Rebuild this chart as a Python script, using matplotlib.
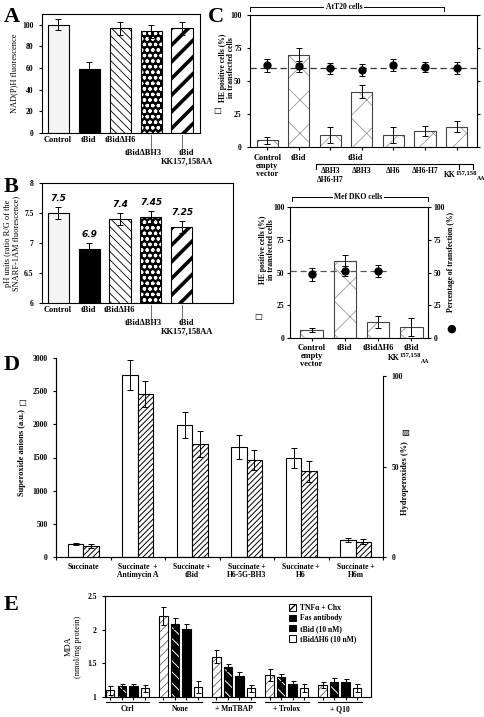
import matplotlib
matplotlib.use('Agg')
import matplotlib.pyplot as plt
from matplotlib.patches import Patch
from matplotlib.lines import Line2D
import numpy as np

plt.rcParams['font.family'] = ['Liberation Serif', 'DejaVu Sans']
plt.rcParams['font.weight'] = 'bold'
plt.rcParams['font.size'] = 6
plt.rcParams['axes.linewidth'] = 0.8
plt.rcParams['xtick.major.size'] = 2.5
plt.rcParams['ytick.major.size'] = 2.5
plt.rcParams['xtick.major.width'] = 0.8
plt.rcParams['ytick.major.width'] = 0.8
plt.rcParams['xtick.labelsize'] = 5.5
plt.rcParams['ytick.labelsize'] = 5.5

# ---- data ----
ab_top = ['Control', 'tBid', 'tBidΔH6']
ab_low = ['tBidΔBH3', 'tBid\nKK157,158AA']
nadh = [100, 59, 97, 94, 97]
nadh_err = [5, 7, 6, 6, 6]
ph = [7.5, 6.9, 7.4, 7.43, 7.26]
ph_err = [0.1, 0.1, 0.1, 0.1, 0.1]
ph_text = ['7.5', '6.9', '7.4', '7.45', '7.25']

att_he = [5, 70, 9, 42, 9, 12, 15.5]
att_he_err = [2.5, 5, 6, 5, 6, 4, 4]
att_tr = [62, 61, 59.5, 58.5, 62, 60.5, 60]
att_tr_err = [5, 4, 4, 4.5, 4.5, 4, 4.5]
att_sub = ['ΔBH3\nΔH6-H7', 'ΔBH3', 'ΔH6', 'ΔH6-H7']

mef_labels = ['Control\nempty\nvector', 'tBid', 'tBidΔH6', 'tBid']
mef_he = [6, 59, 12, 8.5]
mef_he_err = [1.5, 4, 4.5, 7]
mef_tr = [48.5, 51, 51]
mef_tr_err = [5, 4, 4.5]

d_labels = ['Succinate', 'Succinate  +\nAntimycin A', 'Succinate +\ntBid',
            'Succinate +\nH6-5G-BH3', 'Succinate +\nH6', 'Succinate +\nH6m']
superoxide = [195, 2750, 1985, 1660, 1495, 255]
superoxide_err = [20, 226, 196, 180, 155, 35]
hydro = [6, 90, 62.5, 53.5, 47.5, 8.5]
hydro_err = [1, 7, 7, 5.5, 5.8, 1.5]

e_groups = ['Ctrl', 'None', '+ MnTBAP', '+ Trolox', '+ Q10']
e_series = ['TNFα + Chx', 'Fas antibody', 'tBid (10 nM)', 'tBidΔH6 (10 nM)']
mda = [[1.10, 2.20, 1.60, 1.33, 1.18],
       [1.16, 2.09, 1.44, 1.29, 1.23],
       [1.16, 2.01, 1.31, 1.19, 1.23],
       [1.13, 1.15, 1.13, 1.13, 1.13]]
mda_err = [[0.07, 0.13, 0.10, 0.09, 0.05],
           [0.04, 0.08, 0.05, 0.05, 0.05],
           [0.04, 0.08, 0.06, 0.05, 0.03],
           [0.05, 0.09, 0.05, 0.06, 0.06]]

W, H = 485, 717
fig = plt.figure(figsize=(W / 100, H / 100), dpi=100)


def rect(x0, y0, x1, y1):
    return [x0 / W, 1 - y1 / H, (x1 - x0) / W, (y1 - y0) / H]


def ftext(x, y, s, **kw):
    fig.text(x / W, 1 - y / H, s, **kw)


def new_axes(x0, y0, x1, y1):
    a = fig.add_axes(rect(x0, y0, x1, y1))
    a.patch.set_visible(False)
    return a


def hbar(ax, x, h, w, face, hatch=None, hcolor='black', hlw=0.8, edge='black', lw=0.8):
    with plt.rc_context({'hatch.linewidth': hlw}):
        bars = ax.bar(x, h, w, color=face, edgecolor=hcolor, hatch=hatch, linewidth=0)
    for b in bars:
        if hasattr(b, 'set_hatch_linewidth'):
            b.set_hatch_linewidth(hlw)
    ax.bar(x, h, w, fill=False, edgecolor=edge, linewidth=lw)


def ebar(ax, x, v, e, cap=2):
    ax.errorbar(x, v, yerr=e, fmt='none', ecolor='black', elinewidth=0.7,
                capsize=cap, capthick=0.7)


def kk_label(ax, x, y):
    # KK with raised 157,158 and lowered AA
    t1 = ax.text(x, y, 'KK', transform=ax.get_xaxis_transform(), ha='left', va='top',
                 fontsize=5.5)
    t2 = ax.annotate('157,158', xy=(1, 0.6), xycoords=t1, ha='left', va='bottom',
                     fontsize=4.8)
    ax.annotate('AA', xy=(1, -0.2), xycoords=(t2, t1), ha='left', va='bottom',
                fontsize=4.2)


ab_styles = [('#f4f4f4', None, 'black', 0.8),
             ('black', None, 'black', 0.8),
             ('white', '\\\\\\\\', 'black', 0.6),
             ('black', 'ooo', 'white', 0.9),
             ('white', '//', 'black', 2.6)]


def ab_panel(ax, vals, errs):
    x = np.arange(5)
    for i in range(5):
        face, hatch, hc, hlw = ab_styles[i]
        hbar(ax, [x[i]], [vals[i]], 0.68, face, hatch, hc, hlw)
    ebar(ax, x, vals, errs)
    ax.set_xticks(x[:3])
    ax.set_xticklabels(ab_top, fontsize=6)
    ax.tick_params(axis='x', length=0, pad=2)
    tr = ax.get_xaxis_transform()
    for i in [3, 4]:
        ax.plot([i, i], [-0.02, -0.125], color='#555', lw=0.6, transform=tr, clip_on=False)
    ax.text(2.75, -0.135, ab_low[0], transform=tr, ha='center', va='top', fontsize=6)
    ax.text(4.15, -0.135, ab_low[1], transform=tr, ha='center', va='top', fontsize=6,
            linespacing=1.0)


# ---- A ----
axA = new_axes(42, 14, 200, 133)
ab_panel(axA, nadh, nadh_err)
axA.set_xlim(-0.52, 4.58)
axA.set_ylim(0, 110)
axA.set_yticks([0, 20, 40, 60, 80, 100])
axA.set_ylabel('NAD(P)H fluorescence', fontsize=6, labelpad=3)
ftext(4, 22, 'A', fontsize=16, fontweight='bold')

# ---- B ----
axB = new_axes(42, 183, 233, 303)
ab_panel(axB, ph, ph_err)
axB.set_xlim(-0.52, 5.65)
axB.set_ylim(6, 8)
axB.set_yticks([6, 6.5, 7, 7.5, 8])
axB.set_yticklabels(['6', '6.5', '7', '7.5', '8'])
axB.set_ylabel('pH units (ratio R/G of the\nSNARF-1AM fluorescence)', fontsize=6,
               labelpad=3, linespacing=1.0)
for i in range(5):
    axB.text(i, ph[i] + ph_err[i] + 0.07, ph_text[i], ha='center', va='bottom',
             fontsize=6.5, style='italic', family='DejaVu Sans')
ftext(4, 192, 'B', fontsize=16, fontweight='bold')

# ---- C top (AtT20) ----
c_face, c_hatch, c_hc = 'white', 'x', '#8a8a8a'
axC = new_axes(250, 15, 477, 147)
xc = np.arange(7)
hbar(axC, xc, att_he, 0.67, c_face, c_hatch, c_hc, 0.5, edge='#444')
ebar(axC, xc, att_he, att_he_err)
axC.axhline(60, ls=(0, (5, 3)), color='#333', lw=0.9)
axC.errorbar(xc, att_tr, yerr=att_tr_err, fmt='o', color='black', ms=5,
             elinewidth=0.7, capsize=2, capthick=0.7)
axC.set_xlim(-0.55, 6.65)
axC.set_ylim(0, 100)
axC.set_yticks([0, 25, 50, 75, 100])
axC.set_xticks(xc)
axC.set_xticklabels([])
axC.tick_params(axis='x', length=2)
axC.tick_params(axis='y', right=True, labelright=False)
trC = axC.get_xaxis_transform()
axC.text(0, -0.05, 'Control\nempty\nvector', transform=trC, ha='center', va='top',
         fontsize=6, linespacing=1.0)
axC.text(1, -0.05, 'tBid', transform=trC, ha='center', va='top', fontsize=6)
axC.text(2.8, -0.05, 'tBid', transform=trC, ha='center', va='top', fontsize=6)
axC.plot([1.55, 1.55, 6.52, 6.52], [-0.165, -0.13, -0.13, -0.165], color='black',
         lw=0.8, transform=trC, clip_on=False)
axC.plot([6.08, 6.08], [-0.13, -0.17], color='black', lw=0.8, transform=trC, clip_on=False)
for i, lab in enumerate(att_sub):
    axC.text(i + 2, -0.155, lab, transform=trC, ha='center', va='top', fontsize=5.5,
             linespacing=1.1)
kk_label(axC, 5.6, -0.185)
fig.add_artist(Line2D([250 / W, 250 / W, 444 / W, 444 / W],
                      [1 - 11 / H, 1 - 7 / H, 1 - 7 / H, 1 - 11 / H], color='black', lw=0.7))
ftext(344, 7, 'AtT20 cells', fontsize=5.5, ha='center', va='center',
      bbox=dict(facecolor='white', edgecolor='none', pad=1))
ftext(227, 68, 'HE positive cells (%)\nin transfected cells', fontsize=5.5, rotation=90,
      ha='center', va='center', linespacing=1.1)
ftext(217, 110, '□', fontsize=6, ha='center', va='center', family='DejaVu Sans')
ftext(208, 22, 'C', fontsize=16, fontweight='bold')

# ---- C bottom (Mef DKO) ----
axM = new_axes(290, 207, 428, 338)
xm = np.arange(4)
hbar(axM, xm, mef_he, 0.67, c_face, c_hatch, c_hc, 0.5, edge='#444')
ebar(axM, xm, mef_he, mef_he_err)
axM.axhline(51, xmax=0.72, ls=(0, (5, 3)), color='#555', lw=0.9)
axM.errorbar(xm[:3], mef_tr, yerr=mef_tr_err, fmt='o', color='black', ms=5,
             elinewidth=0.7, capsize=2, capthick=0.7)
axM.set_xlim(-0.65, 3.5)
axM.set_ylim(0, 100)
axM.set_yticks([0, 25, 50, 75, 100])
axM.tick_params(axis='y', right=True, labelright=True, pad=1.5)
axM.set_xticks(xm)
axM.set_xticklabels(mef_labels, fontsize=6, linespacing=1.0)
axM.tick_params(axis='x', length=2, pad=2)
kk_label(axM, 2.3, -0.125)
fig.add_artist(Line2D([292 / W, 292 / W, 428 / W, 428 / W],
                      [1 - 201 / H, 1 - 197 / H, 1 - 197 / H, 1 - 201 / H], color='black', lw=0.7))
ftext(358, 197, 'Mef DKO cells', fontsize=5.5, ha='center', va='center',
      bbox=dict(facecolor='white', edgecolor='none', pad=1))
ftext(267, 250, 'HE positive cells (%)\nin transfected cells', fontsize=5.5, rotation=90,
      ha='center', va='center', linespacing=1.1)
ftext(258, 316, '□', fontsize=6, ha='center', va='center', family='DejaVu Sans')
ftext(451, 262, 'Percentage of transfection (%)', fontsize=5.5, rotation=90,
      ha='center', va='center')
ftext(451, 329, '●', fontsize=8, ha='center', va='center', family='DejaVu Sans')

# ---- D ----
axD = new_axes(56, 358, 383, 557)
axDR = axD.twinx()
axDR.patch.set_visible(False)
xd = np.arange(6)
bw = 0.28
hbar(axD, xd - bw / 2, superoxide, bw, 'white')
ebar(axD, xd - bw / 2, superoxide, superoxide_err)
hbar(axDR, xd + bw / 2, hydro, bw, 'white', '//////', 'black', 0.7)
ebar(axDR, xd + bw / 2, hydro, hydro_err)
axD.set_xlim(-0.5, 5.5)
axD.set_ylim(0, 3000)
axD.set_yticks(range(0, 3001, 500))
axDR.set_ylim(0, 100 * 199 / 181)
axDR.set_yticks([0, 50, 100])
axDR.spines['right'].set_bounds(0, 100)
for a in (axD, axDR):
    a.spines['top'].set_visible(False)
axD.spines['right'].set_visible(False)
axD.set_xticks(np.arange(-0.5, 6, 1))
axD.set_xticklabels([])
axD.set_xticks(xd, minor=True)
axD.set_xticklabels(d_labels, minor=True, fontsize=5.5, linespacing=1.0)
axD.tick_params(axis='x', which='minor', length=0, pad=4)
axD.tick_params(axis='x', which='major', length=2)
ftext(22, 453, 'Superoxide anions (a.u.)', fontsize=6, rotation=90, ha='center', va='center')
ftext(22, 403, '□', fontsize=6, ha='center', va='center', family='DejaVu Sans')
ftext(405, 478, 'Hydroperoxides (%)', fontsize=6, rotation=90, ha='center', va='center')
ftext(405, 432, '▨', fontsize=6, ha='center', va='center', family='DejaVu Sans')
ftext(4, 370, 'D', fontsize=16, fontweight='bold')

# ---- E ----
axE = new_axes(105, 596, 371, 697)
xe = np.arange(5)
e_styles = [('white', '////', '#666', 0.6),
            ('black', '\\\\\\', 'white', 0.7),
            ('black', None, 'black', 0.8),
            ('white', None, 'black', 0.8)]
off = [-1.5, -0.5, 0.5, 1.5]
bpos = []
for k in range(4):
    face, hatch, hc, hlw = e_styles[k]
    pos = xe + off[k] * 0.217
    bpos.extend(pos)
    hbar(axE, pos, mda[k], 0.16, face, hatch, hc, hlw)
    ebar(axE, pos, mda[k], mda_err[k], cap=1.8)
axE.set_xlim(-0.424, 4.585)
axE.set_ylim(1, 2.5)
axE.set_yticks([1, 1.5, 2, 2.5])
axE.set_yticklabels(['1', '1.5', '2', '2.5'])
axE.set_xticks(sorted(bpos))
axE.set_xticklabels([])
axE.tick_params(axis='x', length=2)
trE = axE.get_xaxis_transform()
for i, g in enumerate(e_groups):
    axE.plot([i - 0.41, i + 0.41], [-0.05, -0.05], color='black', lw=0.8,
             transform=trE, clip_on=False)
    axE.text(i, -0.08, g, transform=trE, ha='center', va='top', fontsize=5.5)
axE.set_ylabel('MDA\n(nmol/mg protein)', fontsize=6, labelpad=4, linespacing=1.1)
handles = []
for k in range(4):
    face, hatch, hc, hlw = e_styles[k]
    handles.append(Patch(facecolor=face, edgecolor='black', hatch=hatch, linewidth=0.7))
axE.legend(handles, e_series, loc='upper left', bbox_to_anchor=(0.68, 0.95),
           frameon=False, fontsize=5.5, handlelength=0.9, handleheight=0.9,
           labelspacing=0.3, handletextpad=0.5, borderaxespad=0)
ftext(4, 610, 'E', fontsize=16, fontweight='bold')

fig.savefig('out.png', dpi=100)
